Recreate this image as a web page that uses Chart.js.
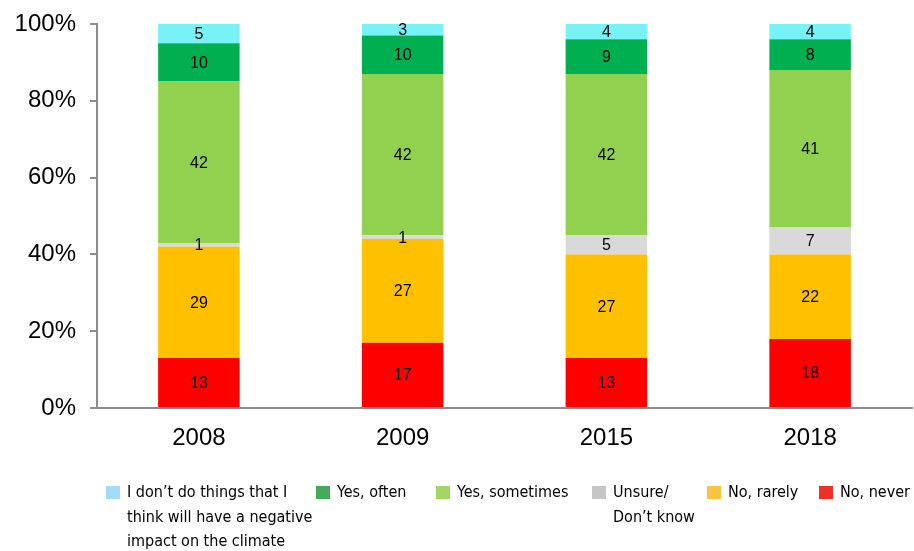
<!DOCTYPE html>
<html>
<head>
<meta charset="utf-8">
<script src="https://cdn.jsdelivr.net/npm/chart.js@4"></script>
<style>
  html, body { margin: 0; padding: 0; background: #fff; }
  #wrap { width: 914px; height: 551px; position: relative; }
</style>
</head>
<body>
<div id="wrap"><canvas id="chart" width="914" height="551"></canvas></div>
<script>
const years = ['2008', '2009', '2015', '2018'];

// stacked from the bottom up
const noNever = [13, 17, 13, 18];
const noRarely = [29, 27, 27, 22];
const unsure = [1, 1, 5, 7];
const yesSometimes = [42, 42, 42, 41];
const yesOften = [10, 10, 9, 8];
const dontDo = [5, 3, 4, 4];

const yTicks = [0, 20, 40, 60, 80, 100];

const axisFont = '"Liberation Sans", Arial, sans-serif';
const legendFont = '16px "Liberation Sans Narrow", "Arial Narrow", "DejaVu Sans Condensed", sans-serif';

const series = [
    { label: 'No, never', lines: ['No, never'], data: noNever, color: '#FF0000', key: '#EE3124' },
    { label: 'No, rarely', lines: ['No, rarely'], data: noRarely, color: '#FFC000', key: '#F9C33F' },
    { label: 'Unsure/ Don\u2019t know', lines: ['Unsure/', 'Don\u2019t know'], data: unsure, color: '#D9D9D9', key: '#C6C6C6' },
    { label: 'Yes, sometimes', lines: ['Yes, sometimes'], data: yesSometimes, color: '#92D050', key: '#A2D662' },
    { label: 'Yes, often', lines: ['Yes, often'], data: yesOften, color: '#00B050', key: '#48A95A' },
    { label: 'I don\u2019t do things that I think will have a negative impact on the climate',
      lines: ['I don\u2019t do things that I', 'think will have a negative', 'impact on the climate'],
      data: dontDo, color: '#77F2F6', key: '#A3DCF8' }
];

// legend order left to right (top series first), x = box left
const legendOrder = [5, 4, 3, 2, 1, 0];
const legendX = [106, 316, 436, 592, 707, 819];

// values written inside each segment
const segmentLabels = {
    id: 'segmentLabels',
    afterDatasetsDraw(chart) {
        const ctx = chart.ctx;
        ctx.save();
        ctx.font = '16px ' + axisFont;
        ctx.fillStyle = '#000';
        ctx.textAlign = 'center';
        ctx.textBaseline = 'middle';
        chart.data.datasets.forEach((ds, i) => {
            chart.getDatasetMeta(i).data.forEach((bar, j) => {
                const mid = (bar.y + bar.base) / 2;
                ctx.fillText(String(ds.data[j]), bar.x, mid + 1);
            });
        });
        ctx.restore();
    }
};

// bottom legend with wrapped labels
const bottomLegend = {
    id: 'bottomLegend',
    afterDraw(chart) {
        const ctx = chart.ctx;
        ctx.save();
        ctx.font = legendFont;
        ctx.textBaseline = 'middle';
        ctx.textAlign = 'left';
        legendOrder.forEach((si, k) => {
            const s = series[si];
            const x = legendX[k];
            const y0 = 493;
            ctx.fillStyle = s.key;
            ctx.fillRect(x, y0 - 7, 14, 13);
            ctx.fillStyle = '#000';
            s.lines.forEach((ln, li) => {
                ctx.fillText(ln, x + 21, y0 + li * 24.5);
            });
        });
        ctx.restore();
    }
};

new Chart(document.getElementById('chart').getContext('2d'), {
    type: 'bar',
    data: {
        labels: years,
        datasets: series.map(s => ({
            label: s.label,
            data: s.data,
            backgroundColor: s.color,
            borderWidth: 0,
            barPercentage: 0.4,
            categoryPercentage: 1.0
        }))
    },
    options: {
        responsive: false,
        animation: false,
        layout: { padding: { top: 24, right: 2, bottom: 93, left: 0 } },
        plugins: {
            legend: { display: false },
            tooltip: { enabled: false }
        },
        scales: {
            x: {
                stacked: true,
                afterFit: (scale) => { scale.height = 50; },
                grid: { display: false, drawTicks: false },
                border: { color: '#8C8C8C', width: 2 },
                ticks: {
                    color: '#000',
                    padding: 16,
                    font: { family: axisFont, size: 24 }
                }
            },
            y: {
                stacked: true,
                min: 0,
                max: 100,
                afterFit: (scale) => {
                    scale.width = 97;
                    scale.paddingTop = 0;
                    scale.paddingBottom = 0;
                },
                afterBuildTicks: (scale) => { scale.ticks = yTicks.map(v => ({ value: v })); },
                grid: { drawOnChartArea: false, drawTicks: true, tickLength: 7, color: '#8C8C8C', lineWidth: 2 },
                border: { color: '#8C8C8C', width: 2 },
                ticks: {
                    color: '#000',
                    padding: 14,
                    font: { family: axisFont, size: 24 },
                    callback: (v) => v + '%'
                }
            }
        }
    },
    plugins: [segmentLabels, bottomLegend]
});
</script>
</body>
</html>
